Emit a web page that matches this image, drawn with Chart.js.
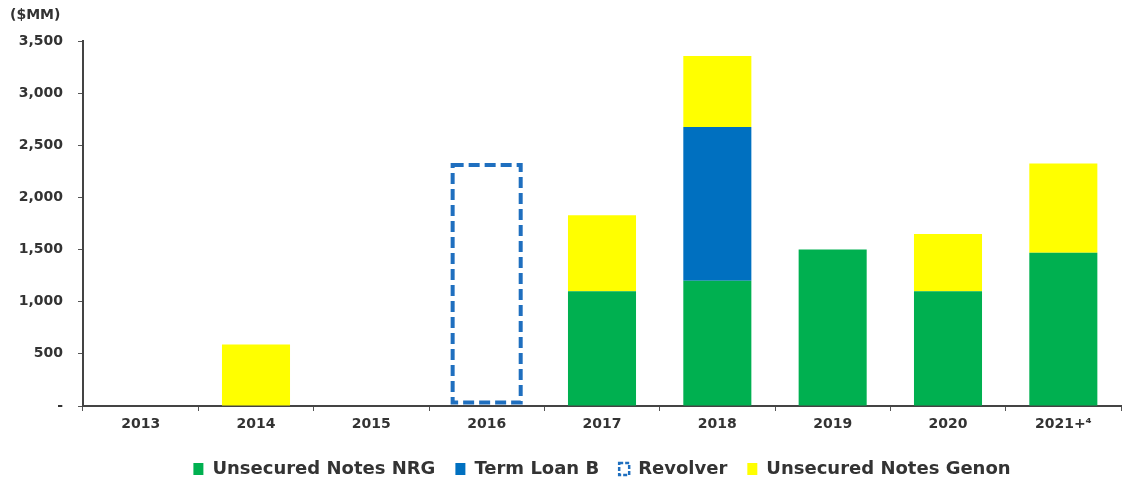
<!DOCTYPE html>
<html>
<head>
<meta charset="utf-8">
<script src="https://cdn.jsdelivr.net/npm/chart.js@4.4.1/dist/chart.umd.min.js"></script>
<style>
  html, body { margin: 0; padding: 0; background: #ffffff; overflow: hidden; }
  #wrap { width: 1123px; height: 488px; position: relative; }
</style>
</head>
<body>
<div id="wrap"><canvas id="c" width="1123" height="488"></canvas></div>
<script>
const categories = ['2013', '2014', '2015', '2016', '2017', '2018', '2019', '2020', '2021+\u2074'];
const unsecuredNrg   = [0, 0, 0, 0, 1100, 1200, 1500, 1100, 1470];
const termLoanB      = [0, 0, 0, 0, 0, 1475, 0, 0, 0];
const revolver       = [0, 0, 0, 2310, 0, 0, 0, 0, 0];
const unsecuredGenon = [0, 590, 0, 0, 730, 680, 0, 550, 855];
const yTicks = [0, 500, 1000, 1500, 2000, 2500, 3000, 3500];

const GREEN = '#00b050';
const BLUE = '#0070c0';
const REV_BLUE = '#1f6fbf';
const YELLOW = '#ffff00';
const TEXT = '#333333';
const FONT = "'DejaVu Sans', Verdana, sans-serif";

const dashedBars = {
  id: 'dashedBars',
  afterDatasetsDraw(chart) {
    const idx = chart.data.datasets.findIndex(d => d.label === 'Revolver');
    const meta = chart.getDatasetMeta(idx);
    const ctx = chart.ctx;
    const lw = 4;
    ctx.save();
    ctx.strokeStyle = REV_BLUE;
    ctx.lineWidth = lw;
    ctx.setLineDash([11, 5]);
    meta.data.forEach((el, i) => {
      if (!revolver[i]) return;
      const p = el.getProps(['x', 'y', 'base', 'width'], true);
      const left = p.x - p.width / 2;
      const top = Math.min(p.y, p.base);
      const bottom = Math.max(p.y, p.base) - lw / 2 - 1;
      ctx.strokeRect(left, top, p.width, bottom - top);
    });
    ctx.restore();
  }
};

new Chart(document.getElementById('c'), {
  type: 'bar',
  data: {
    labels: categories,
    datasets: [
      { label: 'Unsecured Notes NRG', data: unsecuredNrg, backgroundColor: GREEN },
      { label: 'Term Loan B', data: termLoanB, backgroundColor: BLUE },
      { label: 'Revolver', data: revolver, backgroundColor: 'rgba(0,0,0,0)' },
      { label: 'Unsecured Notes Genon', data: unsecuredGenon, backgroundColor: YELLOW }
    ]
  },
  options: {
    responsive: false,
    animation: false,
    layout: { padding: { left: 10, right: 2, top: 0, bottom: 0 } },
    datasets: { bar: { categoryPercentage: 1.0, barPercentage: 0.59 } },
    plugins: {
      tooltip: { enabled: false },
      title: {
        display: true,
        text: '($MM)',
        align: 'start',
        color: TEXT,
        font: { family: FONT, size: 14, weight: 'bold' },
        padding: { top: 7, bottom: 17.2 }
      },
      legend: {
        position: 'bottom',
        fullSize: false,
        labels: {
          color: TEXT,
          font: { family: FONT, size: 18, weight: 'bold' },
          boxWidth: 10,
          boxHeight: 12,
          padding: 20,
          generateLabels(chart) {
            return chart.data.datasets.map((d, i) => {
              const isRev = d.label === 'Revolver';
              return {
                text: d.label,
                fillStyle: isRev ? '#ffffff' : d.backgroundColor,
                strokeStyle: isRev ? REV_BLUE : d.backgroundColor,
                lineWidth: isRev ? 2.5 : 0,
                lineDash: isRev ? [4, 2] : [],
                hidden: false,
                datasetIndex: i,
                fontColor: TEXT
              };
            });
          }
        }
      }
    },
    scales: {
      x: {
        stacked: true,
        offset: true,
        grid: { display: true, drawOnChartArea: false, drawTicks: true, tickLength: 5, color: '#555', offset: true },
        border: { display: true, color: '#444', width: 2 },
        ticks: { color: TEXT, font: { family: FONT, size: 14, weight: 'bold' }, padding: 5, maxRotation: 0 },
        afterFit(scale) { scale.height = 488 - 407 - 47; }
      },
      y: {
        stacked: true,
        min: 0,
        max: 3500,
        afterBuildTicks(scale) { scale.ticks = yTicks.map(v => ({ value: v })); },
        grid: { display: true, drawOnChartArea: false, drawTicks: true, tickLength: 5, color: '#555' },
        border: { display: true, color: '#444', width: 2 },
        ticks: {
          color: TEXT,
          font: { family: FONT, size: 14, weight: 'bold' },
          padding: 15,
          callback(v) { return v === 0 ? '-' : v.toLocaleString('en-US'); }
        },
        afterFit(scale) { scale.width = 73; }
      }
    }
  },
  plugins: [dashedBars]
});
</script>
</body>
</html>
